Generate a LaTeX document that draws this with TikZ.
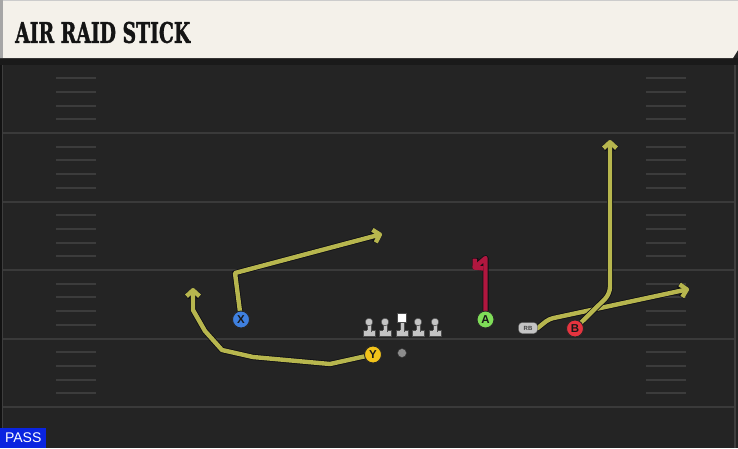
\documentclass[tikz,border=0pt]{standalone}
\usepackage{fontspec}
\setmainfont{Liberation Sans}
\newfontfamily\titlefont{DejaVu Serif}[BoldFeatures={FakeBold=1.6}]
\usetikzlibrary{arrows.meta}
\definecolor{fieldbg}{HTML}{242424}
\definecolor{headerbg}{HTML}{F4F1EA}
\definecolor{darkbar}{HTML}{1A1A1A}
\definecolor{yardcol}{HTML}{3A3A3A}
\definecolor{hashcol}{HTML}{3C3C3C}
\definecolor{routecol}{HTML}{B7B64E}
\definecolor{routered}{HTML}{B0173F}
\definecolor{outlinecol}{HTML}{0E0E14}
\definecolor{passblue}{HTML}{0A24E0}
\definecolor{xblue}{HTML}{3F80DF}
\definecolor{yyellow}{HTML}{F2C31A}
\definecolor{agreen}{HTML}{7FDD58}
\definecolor{bred}{HTML}{E5343F}
\definecolor{lmcol}{HTML}{C4C4C4}
\tikzset{
  yard/.style={draw=yardcol, line width=2pt},
  hash/.style={draw=hashcol, line width=2pt},
  player/.style={circle, draw=black!85, line width=0.9pt, minimum size=17pt, inner sep=0pt,
    font=\bfseries\fontsize{11.5}{11.5}\selectfont, text=black!90},
  route/.style={draw=routecol, line width=4.4pt, line join=round, line cap=round,
    -{Straight Barb[length=6pt,width=13pt,line join=round]},
    preaction={draw=outlinecol, line width=6pt, line join=round}},
  routeA/.style={route, draw=routered},
  rbstyle/.style={draw=black!80, fill=lmcol, rounded corners=3.5pt, minimum width=19pt,
    minimum height=11pt, inner sep=0pt, font=\bfseries\fontsize{6}{6}\selectfont, text=black!75},
  titlestyle/.style={anchor=west, inner sep=0pt},
  lineman/.pic={
    \filldraw[fill=lmcol, draw=black!70, line width=0.5pt] (-6,8) rectangle (6,14);
    \filldraw[fill=lmcol, draw=black!70, line width=0.5pt] (-2,0) rectangle (2,9);
    \fill[lmcol] (-1.6,7.5) rectangle (1.6,9.5);
    \filldraw[fill=lmcol, draw=black!70, line width=0.5pt] (0,0) circle (3.8);
  },
  centerman/.pic={
    \filldraw[fill=lmcol, draw=black!70, line width=0.5pt] (-6,8) rectangle (6,14);
    \filldraw[fill=lmcol, draw=black!70, line width=0.5pt] (-2,0) rectangle (2,9);
    \fill[lmcol] (-1.6,7.5) rectangle (1.6,9.5);
    \filldraw[fill=white, draw=black!70, line width=0.5pt] (-4.5,-9) rectangle (4.5,0);
  }
}
\begin{document}
\begin{tikzpicture}[x=1pt,y=-1pt]
\useasboundingbox (0,0) rectangle (738,448);
\fill[fieldbg] (0,0) rectangle (738,448);
% side edges
\fill[black!50!fieldbg] (0,64) rectangle (2,448);
\fill[white!12!fieldbg] (2,64) rectangle (3,448);
\fill[white!12!fieldbg] (734,64) rectangle (736,448);
% header
\fill[darkbar] (0,58) rectangle (738,65);
\fill[headerbg] (0,0) -- (738,0) -- (738,50) -- (733,58) -- (0,58) -- cycle;
\fill[black!35] (0,0) rectangle (3,58);
\fill[black!20] (3,0) rectangle (738,1.2);
\node[titlestyle, text=black!92] (title) at (15,32.5)
  {\resizebox{175pt}{21pt}{\titlefont\bfseries AIR RAID STICK}};
% yard lines
\foreach \y in {133,201.5,270,338.5,407}{
  \draw[yard] (3,\y) -- (734,\y);
}
% hash marks
\foreach \j in {-1,0,1,2,3}{
  \foreach \k in {1,2,3,4}{
    \pgfmathsetmacro{\hy}{133+68.5*\j+13.7*\k}
    \draw[hash] (56,\hy) -- (96,\hy);
    \draw[hash] (646,\hy) -- (686,\hy);
  }
}
% offensive line
\foreach \lx in {369,385,418,435}{
  \pic at (\lx,322) {lineman};
}
\pic at (402,322) {centerman};
% QB
\node[circle, fill=black!45, draw=black!80, line width=0.5pt, minimum size=9pt, inner sep=0pt] (QB) at (402,353) {};
% players
\node[player, fill=xblue] (X) at (241,319.5) {X};
\node[player, fill=yyellow] (Y) at (373,354.5) {Y};
\node[player, fill=agreen] (A) at (485.5,319.5) {A};
\node[player, fill=bred] (B) at (575,328.5) {B};
\node[rbstyle] (RB) at (528,328) {RB};
% route coordinates
\coordinate (xc) at (235,273);
\coordinate (xe) at (382,234);
\coordinate (y1) at (330,364);
\coordinate (y2) at (253,357);
\coordinate (y3) at (222,350);
\coordinate (y4) at (205,331);
\coordinate (y5) at (193,310);
\coordinate (ye) at (193,288);
\coordinate (a1) at (485.5,258);
\coordinate (ae) at (473,269);
\coordinate (b1) at (610,294);
\coordinate (be) at (610,140);
\coordinate (r1) at (549,319);
\coordinate (re) at (689,289);
% routes
\draw[route] (X) -- (xc) -- (xe);
\draw[route] (Y) -- (y1) -- (y2) -- (y3) -- (y4) -- (y5) -- (ye);
\draw[routeA] (A) -- (a1) -- (ae);
\draw[route, rounded corners=4pt] (RB.east) -- (r1) -- (re);
\draw[route, rounded corners=7pt] (B) -- (b1) -- (be);
% redraw player tokens above routes
\node[player, fill=xblue] at (X) {X};
\node[player, fill=yyellow] at (Y) {Y};
\node[player, fill=agreen] at (A) {A};
\node[player, fill=bred] at (B) {B};
\node[rbstyle] at (RB) {RB};
% PASS label
\node[fill=passblue, text=white, anchor=south west, minimum width=46pt, minimum height=20pt,
  inner sep=0pt, font=\fontsize{14}{14}\selectfont] (pass) at (0,448) {PASS};
\end{tikzpicture}
\end{document}
